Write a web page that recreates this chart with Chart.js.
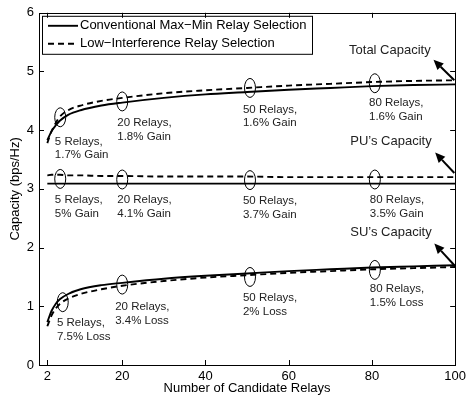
<!DOCTYPE html>
<html>
<head>
<meta charset="utf-8">
<script src="https://cdn.jsdelivr.net/npm/chart.js@4/dist/chart.umd.min.js"></script>
<style>
html, body { margin: 0; padding: 0; background: #fff; }
#wrap { width: 470px; height: 401px; }
</style>
</head>
<body>
<div id="wrap"><canvas id="capacityChart"></canvas></div>
<script>
// number of candidate relays (x)
const relays = [2, 3, 4, 5, 7, 10, 15, 20, 30, 40, 50, 60, 70, 80, 90, 100];

// total capacity
const totalConv = [3.83, 3.98, 4.08, 4.16, 4.26, 4.34, 4.42, 4.47, 4.55, 4.61, 4.65, 4.69, 4.72, 4.75, 4.77, 4.78];
const totalLowI = [3.78, 3.98, 4.12, 4.23, 4.34, 4.42, 4.50, 4.55, 4.63, 4.68, 4.72, 4.76, 4.79, 4.82, 4.84, 4.85];

// PU capacity
const puConv = [3.09, 3.09, 3.09, 3.09, 3.09, 3.09, 3.09, 3.09, 3.09, 3.09, 3.09, 3.09, 3.09, 3.09, 3.09, 3.09];
const puLowI = [3.23, 3.24, 3.24, 3.24, 3.23, 3.23, 3.22, 3.22, 3.21, 3.21, 3.21, 3.20, 3.20, 3.20, 3.20, 3.20];

// SU capacity
const suConv = [0.73, 0.92, 1.04, 1.12, 1.21, 1.29, 1.36, 1.40, 1.47, 1.52, 1.56, 1.60, 1.63, 1.66, 1.68, 1.70];
const suLowI = [0.66, 0.84, 0.96, 1.04, 1.13, 1.21, 1.29, 1.35, 1.43, 1.49, 1.53, 1.57, 1.60, 1.63, 1.65, 1.67];

const xTicks = [2, 20, 40, 60, 80, 100];
const yTicks = [0, 1, 2, 3, 4, 5, 6];

const legendLabels = ['Conventional Max\u2212Min Relay Selection', 'Low\u2212Interference Relay Selection'];

// ellipse markers [x, y]
const markers = [
  [5.1, 4.22], [20, 4.49], [50.7, 4.72], [80.7, 4.80],
  [5.1, 3.17], [20, 3.16], [50.7, 3.15], [80.7, 3.16],
  [5.7, 1.07], [20, 1.37], [50.7, 1.50], [80.7, 1.62]
];

// notes [x, y, line1, line2]
const notes = [
  [3.8, 3.81, '5 Relays,', '1.7% Gain'],
  [18.8, 4.12, '20 Relays,', '1.8% Gain'],
  [49.0, 4.35, '50 Relays,', '1.6% Gain'],
  [79.3, 4.46, '80 Relays,', '1.6% Gain'],
  [3.8, 2.81, '5 Relays,', '5% Gain'],
  [18.8, 2.81, '20 Relays,', '4.1% Gain'],
  [49.0, 2.79, '50 Relays,', '3.7% Gain'],
  [79.5, 2.81, '80 Relays,', '3.5% Gain'],
  [4.3, 0.71, '5 Relays,', '7.5% Loss'],
  [18.3, 0.99, '20 Relays,', '3.4% Loss'],
  [49.0, 1.14, '50 Relays,', '2% Loss'],
  [79.5, 1.29, '80 Relays,', '1.5% Loss']
];

// group titles [x, y, text]
const groupTitles = [
  [74.5, 5.36, 'Total Capacity'],
  [74.8, 3.81, 'PU\u2019s Capacity'],
  [74.8, 2.26, 'SU\u2019s Capacity']
];

// arrows [x0, y0, x1, y1]  (tail -> head)
const arrows = [
  [99.8, 4.85, 94.8, 5.20],
  [99.8, 3.27, 95.2, 3.62],
  [99.8, 1.70, 95.0, 2.07]
];

const FONT = '"Liberation Sans", Arial, Helvetica, sans-serif';

function pts(ys) {
  return relays.map((x, i) => ({ x: x, y: ys[i] }));
}

function solidSet(label, ys) {
  return { label: label, data: pts(ys), borderColor: '#000', borderWidth: 1.9,
    pointRadius: 0, cubicInterpolationMode: 'monotone', fill: false };
}
function dashSet(label, ys) {
  return { label: label, data: pts(ys), borderColor: '#000', borderWidth: 1.9, borderDash: [6, 4],
    pointRadius: 0, cubicInterpolationMode: 'monotone', fill: false };
}

const extras = {
  id: 'extras',
  afterDatasetsDraw(chart) {
    const { ctx, chartArea: a, scales: { x, y } } = chart;
    ctx.save();

    // ellipses
    ctx.strokeStyle = '#000';
    ctx.lineWidth = 1;
    markers.forEach(m => {
      ctx.beginPath();
      ctx.ellipse(x.getPixelForValue(m[0]), y.getPixelForValue(m[1]), 5.5, 9.5, 0, 0, Math.PI * 2);
      ctx.stroke();
    });

    // notes
    ctx.fillStyle = '#222';
    ctx.font = '11.5px ' + FONT;
    ctx.textAlign = 'left';
    ctx.textBaseline = 'middle';
    notes.forEach(n => {
      const px = x.getPixelForValue(n[0]), py = y.getPixelForValue(n[1]);
      ctx.fillText(n[2], px, py);
      ctx.fillText(n[3], px, py + 13.5);
    });
    ctx.font = '13px ' + FONT;
    groupTitles.forEach(g => {
      ctx.fillText(g[2], x.getPixelForValue(g[0]), y.getPixelForValue(g[1]));
    });

    // arrows
    ctx.fillStyle = '#000';
    ctx.lineWidth = 2;
    arrows.forEach(r => {
      const x0 = x.getPixelForValue(r[0]), y0 = y.getPixelForValue(r[1]);
      const x1 = x.getPixelForValue(r[2]), y1 = y.getPixelForValue(r[3]);
      const ang = Math.atan2(y1 - y0, x1 - x0);
      const hl = 10, hw = 4.5;
      const bx = x1 - hl * Math.cos(ang), by = y1 - hl * Math.sin(ang);
      ctx.beginPath();
      ctx.moveTo(x0, y0);
      ctx.lineTo(bx, by);
      ctx.stroke();
      ctx.beginPath();
      ctx.moveTo(x1, y1);
      ctx.lineTo(bx + hw * Math.sin(ang), by - hw * Math.cos(ang));
      ctx.lineTo(bx - hw * Math.sin(ang), by + hw * Math.cos(ang));
      ctx.closePath();
      ctx.fill();
    });

    // legend box
    const lx = a.left + 3, ly = a.top + 3, lw = 270, lh = 38;
    ctx.fillStyle = '#fff';
    ctx.fillRect(lx, ly, lw, lh);
    ctx.lineWidth = 1;
    ctx.strokeRect(lx + 0.5, ly + 0.5, lw, lh);
    ctx.lineWidth = 1.9;
    [0, 1].forEach(i => {
      const ry = ly + 10 + i * 18;
      ctx.setLineDash(i === 0 ? [] : [6, 4]);
      ctx.beginPath();
      ctx.moveTo(lx + 6, ry);
      ctx.lineTo(lx + 36, ry);
      ctx.stroke();
      ctx.setLineDash([]);
      ctx.fillStyle = '#000';
      ctx.font = '13px ' + FONT;
      ctx.fillText(legendLabels[i], lx + 38, ry);
    });

    // frame and inward ticks
    ctx.lineWidth = 1;
    ctx.strokeStyle = '#000';
    ctx.strokeRect(Math.round(a.left) + 0.5, Math.round(a.top) + 0.5,
      Math.round(a.right - a.left), Math.round(a.bottom - a.top));
    ctx.beginPath();
    x.ticks.forEach(t => {
      const px = Math.round(x.getPixelForValue(t.value)) + 0.5;
      ctx.moveTo(px, a.bottom); ctx.lineTo(px, a.bottom - 5);
      ctx.moveTo(px, a.top); ctx.lineTo(px, a.top + 5);
    });
    y.ticks.forEach(t => {
      const py = Math.round(y.getPixelForValue(t.value)) + 0.5;
      ctx.moveTo(a.left, py); ctx.lineTo(a.left + 5, py);
      ctx.moveTo(a.right, py); ctx.lineTo(a.right - 5, py);
    });
    ctx.stroke();
    ctx.restore();
  }
};

new Chart(document.getElementById('capacityChart'), {
  type: 'line',
  data: {
    datasets: [
      solidSet(legendLabels[0], totalConv),
      dashSet(legendLabels[1], totalLowI),
      solidSet(legendLabels[0], puConv),
      dashSet(legendLabels[1], puLowI),
      solidSet(legendLabels[0], suConv),
      dashSet(legendLabels[1], suLowI)
    ]
  },
  options: {
    responsive: true,
    maintainAspectRatio: false,
    animation: false,
    layout: { padding: { top: 12, right: 11, left: 0, bottom: 0 } },
    plugins: { legend: { display: false }, tooltip: { enabled: false } },
    scales: {
      x: {
        type: 'linear', min: 0, max: 100,
        afterBuildTicks: s => { s.ticks = xTicks.map(v => ({ value: v })); },
        afterFit: s => { s.height = 36; },
        grid: { display: false, drawTicks: false },
        border: { display: false },
        ticks: { color: '#000', padding: 4, font: { family: FONT, size: 13 } },
        title: { display: true, text: 'Number of Candidate Relays', color: '#000',
          font: { family: FONT, size: 13 }, padding: { top: 0, bottom: 5 } }
      },
      y: {
        type: 'linear', min: 0, max: 6,
        afterBuildTicks: s => { s.ticks = yTicks.map(v => ({ value: v })); },
        afterFit: s => { s.width = 39; },
        grid: { display: false, drawTicks: false },
        border: { display: false },
        ticks: { color: '#000', padding: 5, font: { family: FONT, size: 13 } },
        title: { display: true, text: 'Capacity (bps/Hz)', color: '#000',
          font: { family: FONT, size: 13 }, padding: { top: 8, bottom: 0 } }
      }
    }
  },
  plugins: [extras]
});
</script>
</body>
</html>
